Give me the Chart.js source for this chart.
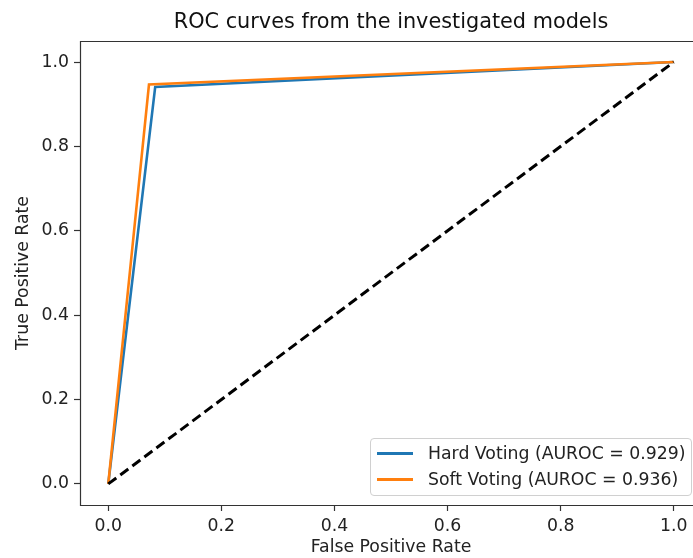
<!DOCTYPE html>
<html>
<head>
<meta charset="utf-8">
<script src="https://cdn.jsdelivr.net/npm/chart.js@4/dist/chart.umd.min.js"></script>
<style>
  html, body { margin: 0; padding: 0; background: #fff; overflow: hidden; }
  #wrap { position: relative; width: 693px; height: 558px; overflow: hidden; }
  #wrap canvas { position: absolute; left: 0; top: 0; }
  #legend {
    position: absolute; left: 370px; top: 438px; width: 320px; height: 56px;
    border: 1px solid #d0d0d0; border-radius: 4px; background: rgba(255,255,255,0.8);
    font-family: "DejaVu Sans", sans-serif; font-size: 17.3px; color: #222;
  }
  .row { position: absolute; left: 0; height: 22px; line-height: 22px; white-space: nowrap; }
  .swatch { position: absolute; left: 6px; top: 10px; width: 36px; height: 2.5px; }
  .label { position: absolute; left: 57px; top: 0; }
</style>
</head>
<body>
<div id="wrap">
  <canvas id="roc" width="720" height="558" style="width:720px;height:558px"></canvas>
  <div id="legend">
    <div class="row" style="top:3px"><span class="swatch" style="background:#1f77b4"></span><span class="label">Hard Voting (AUROC = 0.929)</span></div>
    <div class="row" style="top:29px"><span class="swatch" style="background:#ff7f0e"></span><span class="label">Soft Voting (AUROC = 0.936)</span></div>
  </div>
</div>
<script>
const fprHard = [0, 0.083, 1];
const tprHard = [0, 0.941, 1];
const fprSoft = [0, 0.072, 1];
const tprSoft = [0, 0.947, 1];
const chanceX = [0, 1];
const chanceY = [0, 1];
const tickValues = [0, 0.2, 0.4, 0.6, 0.8, 1.0];

const FONT = "'DejaVu Sans', sans-serif";

function points(xs, ys) {
  return xs.map((x, i) => ({ x, y: ys[i] }));
}

// white background + axes frame (right side sits past the canvas edge, like the reference)
const frame = {
  id: "frame",
  beforeDraw(chart) {
    const { ctx } = chart;
    ctx.save();
    ctx.fillStyle = "#fff";
    ctx.fillRect(0, 0, chart.width, chart.height);
    ctx.restore();
  },
  afterDatasetsDraw(chart) {
    const { ctx, chartArea: a } = chart;
    const l = Math.round(a.left) + 0.5, t = Math.round(a.top) + 0.5, b = Math.round(a.bottom) + 0.5;
    ctx.save();
    ctx.strokeStyle = "#333";
    ctx.lineWidth = 1.2;
    ctx.beginPath();
    ctx.moveTo(chart.width, t);
    ctx.lineTo(l, t);
    ctx.lineTo(l, b);
    ctx.lineTo(chart.width, b);
    ctx.stroke();
    ctx.restore();
  },
};

function axis(title, fit, titlePad) {
  return {
    type: "linear",
    min: -0.05,
    max: 1.05,
    afterBuildTicks: (s) => { s.ticks = tickValues.map((v) => ({ value: v })); },
    afterFit: fit,
    ticks: {
      color: "#222",
      font: { family: FONT, size: 17.3 },
      padding: 5,
      callback: (v) => v.toFixed(1),
    },
    grid: { drawOnChartArea: false, tickLength: 6, tickColor: "#333", tickWidth: 1.2 },
    border: { display: false },
    title: { display: true, text: title, color: "#222", font: { family: FONT, size: 17.3 }, padding: titlePad },
  };
}

new Chart(document.getElementById("roc"), {
  type: "scatter",
  data: {
    datasets: [
      {
        label: "Hard Voting (AUROC = 0.929)",
        data: points(fprHard, tprHard),
        borderColor: "#1f77b4",
        borderWidth: 2.6,
        showLine: true,
        pointRadius: 0,
        order: 2,
      },
      {
        label: "Soft Voting (AUROC = 0.936)",
        data: points(fprSoft, tprSoft),
        borderColor: "#ff7f0e",
        borderWidth: 2.6,
        showLine: true,
        pointRadius: 0,
        order: 1,
      },
      {
        label: "chance",
        data: points(chanceX, chanceY),
        borderColor: "#000",
        borderWidth: 3,
        borderDash: [10, 5],
        showLine: true,
        pointRadius: 0,
        order: 0,
      },
    ],
  },
  options: {
    responsive: false,
    animation: false,
    layout: { padding: { left: 0, right: 18, top: 0, bottom: 0 } },
    plugins: {
      legend: { display: false },
      tooltip: { enabled: false },
      title: {
        display: true,
        text: "ROC curves from the investigated models",
        fullSize: false,
        color: "#111",
        font: { family: FONT, size: 20.8, weight: "normal" },
        padding: { top: 10, bottom: 6 },
      },
    },
    scales: {
      x: axis("False Positive Rate", (s) => { s.height = 53; }, { top: 0, bottom: 0 }),
      y: axis("True Positive Rate", (s) => { s.width = 80; }, { top: 13, bottom: 0 }),
    },
  },
  plugins: [frame],
});
</script>
</body>
</html>
